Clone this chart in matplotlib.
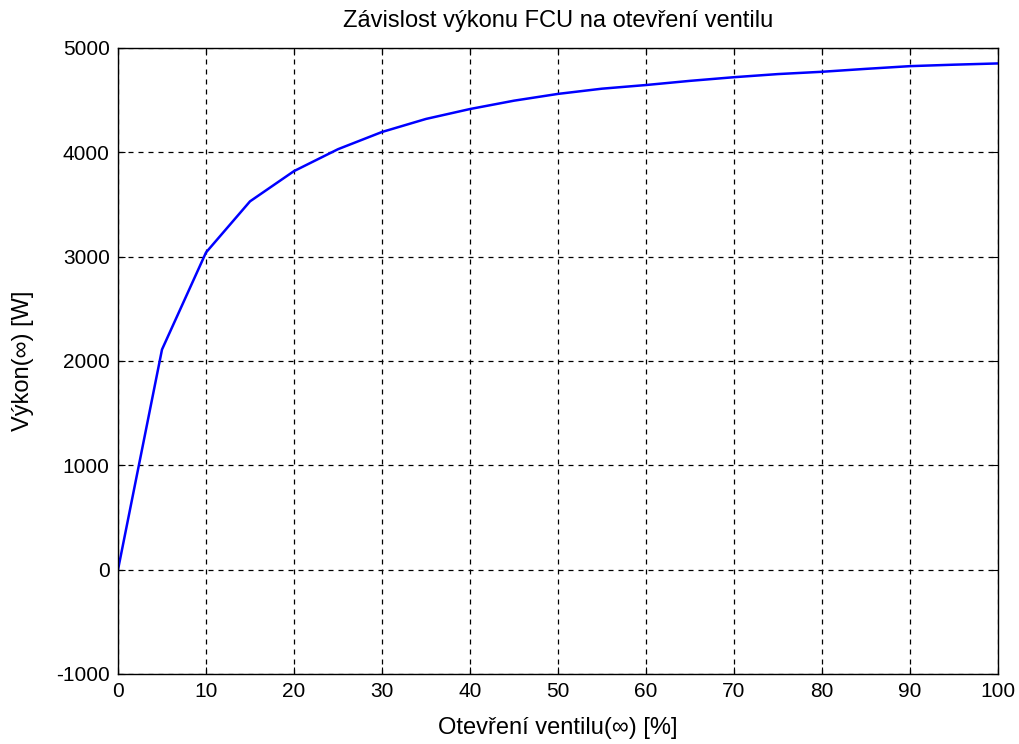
import matplotlib
matplotlib.use("Agg")
import matplotlib.pyplot as plt

opening = [0, 5, 10, 15, 20, 25, 30, 35, 40, 45, 50, 55, 60, 65, 70, 75, 80, 85, 90, 95, 100]
power = [0, 2110, 3040, 3530, 3820, 4030, 4195, 4320, 4415, 4495, 4560, 4610, 4645, 4685, 4720, 4750, 4772, 4800, 4826, 4840, 4852]

x_ticks = [0, 10, 20, 30, 40, 50, 60, 70, 80, 90, 100]
y_ticks = [-1000, 0, 1000, 2000, 3000, 4000, 5000]

plt.rcParams['font.family'] = ['Liberation Sans', 'DejaVu Sans']
plt.rcParams['axes.unicode_minus'] = False

fig = plt.figure(figsize=(10.19, 7.44), dpi=100)
ax = fig.add_axes([0.1158, 0.0941, 0.8636, 0.8414])
ax.plot(opening, power, color='#0000ff', linewidth=1.8)
ax.set_xlim(0, 100)
ax.set_ylim(-1000, 5000)
ax.set_xticks(x_ticks)
ax.set_yticks(y_ticks)
ax.grid(True, color='black', linestyle=(0, (4, 4)), linewidth=0.9)
ax.tick_params(direction='in', top=True, right=True, labelsize=15, length=5, pad=6)
for s in ax.spines.values():
    s.set_linewidth(1.0)
ax.set_title('Závislost výkonu FCU na otevření ventilu', fontsize=17, pad=15)
ax.set_xlabel('Otevření ventilu(∞) [%]', fontsize=17, labelpad=11)
ax.set_ylabel('Výkon(∞) [W]', fontsize=17, labelpad=16)
fig.savefig('out.png', dpi=100)
